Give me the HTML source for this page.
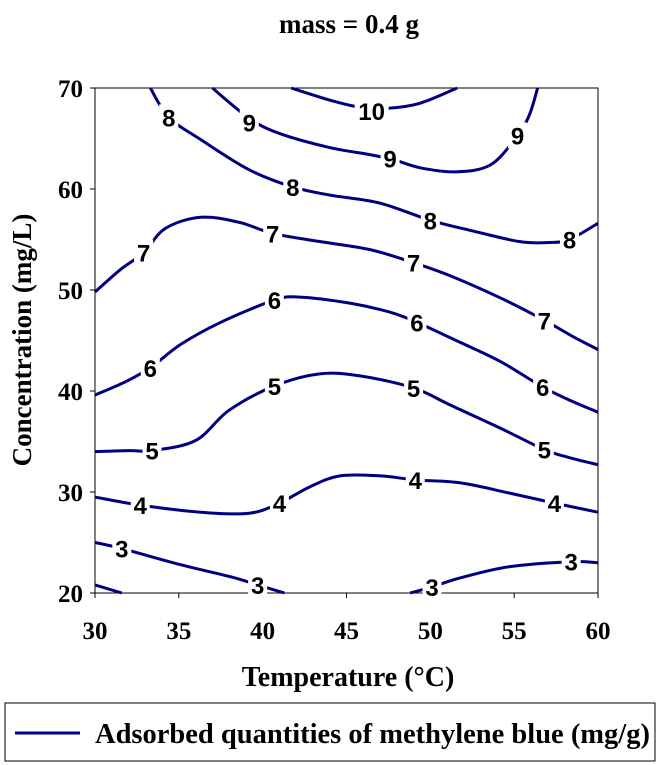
<!DOCTYPE html>
<html><head><meta charset="utf-8">
<style>
html,body{margin:0;padding:0;background:#fff;}
svg{display:block;}
.serif{font-family:"Liberation Serif",serif;font-weight:bold;}
.sans{font-family:"Liberation Sans",sans-serif;font-weight:bold;}
</style></head>
<body>
<svg id="chart" width="661" height="765" viewBox="0 0 661 765">
<text x="349" y="33" text-anchor="middle" class="serif" font-size="27">mass = 0.4 g</text>
<rect x="95" y="88" width="503" height="505" fill="none" stroke="#000" stroke-width="1"/>
<g id="ticks"></g>
<g id="lines"></g>
<g id="labels"></g>
<text transform="translate(31,340) rotate(-90)" text-anchor="middle" class="serif" font-size="27">Concentration (mg/L)</text>
<text x="348" y="686" text-anchor="middle" class="serif" font-size="28">Temperature (°C)</text>
<g>
<rect x="5" y="703" width="650" height="58" fill="#fff" stroke="#000" stroke-width="1"/>
<line x1="15" y1="733" x2="80" y2="733" stroke="#000080" stroke-width="3"/>
<text x="95" y="743" class="serif" font-size="28.5">Adsorbed quantities of methylene blue (mg/g)</text>
</g>
</svg>
<script>
const xTicks=[30,35,40,45,50,55,60];
const yTicks=[20,30,40,50,60,70];
const levels=["10","9","8","7","6","5","4","3","3","3"];
const lineX=[
[41.7,44.0,45.8,47.5,49.4,51.6],
[37.0,39.2,41.0,44.0,46.4,47.8,49.4,51.5,53.6,55.2,55.9,56.4],
[33.3,34.4,36.3,39.2,41.8,44.0,47.0,50.0,52.4,55.3,57.1,58.3,60],
[30,31.5,32.9,34.2,36.3,38.6,40.6,43.4,46.4,49.0,51.2,54.2,56.8,58.6,60],
[30,31.8,33.3,35.1,37.5,40.7,42.2,45.2,47.6,49.2,51.8,54.2,56.7,58.3,60],
[30,32.1,33.4,36.0,38.0,40.7,43.4,45.8,49.0,51.2,54.2,56.8,58.3,60],
[30,32.7,36.3,39.2,41.0,42.8,44.6,47.0,49.1,51.8,54.7,57.4,60],
[30,31.6,35.1,38.1,39.7,41.3],
[48.8,50.1,51.8,54.7,58.4,60],
[30,31.6]];
const lineY=[
[70,68.8,68.1,68.0,68.5,70],
[70,67.0,65.5,64.1,63.4,62.9,62.1,61.7,62.4,65.3,67.3,70],
[70,67.1,64.9,61.9,60.2,59.4,58.6,56.9,55.9,54.8,54.7,55.0,56.6],
[49.8,52.0,53.7,56.1,57.2,56.7,55.6,54.8,54.0,52.7,51.4,49.2,47.0,45.3,44.1],
[39.6,40.9,42.3,44.6,46.8,49.0,49.3,48.7,47.8,46.8,44.8,42.9,40.4,39.1,37.9],
[34.0,34.1,34.1,35.1,38.1,40.5,41.7,41.5,40.3,38.6,36.3,34.2,33.4,32.7],
[29.5,28.7,28.0,27.9,28.9,30.5,31.6,31.6,31.2,30.9,29.9,28.9,28.0],
[25.0,24.4,22.8,21.6,20.8,20.0],
[20,20.6,21.5,22.6,23.1,23.0],
[20.8,20]];
const labelText=["10","9","9","9","8","8","8","8","7","7","7","7","6","6","6","6","5","5","5","5","4","4","4","4","3","3","3","3"];
const labelX=[46.5,39.2,47.6,55.2,34.4,41.8,50.0,58.3,32.9,40.6,49.0,56.8,33.3,40.7,49.2,56.7,33.4,40.7,49.0,56.8,32.7,41.0,49.1,57.4,31.6,39.7,50.1,58.4];
const labelY=[67.7,66.6,63.0,65.3,67.1,60.2,56.9,55.0,53.7,55.6,52.7,47.0,42.3,49.0,46.8,40.4,34.1,40.5,40.3,34.2,28.7,28.9,31.2,28.9,24.4,20.8,20.6,23.1];

const X0=95,X1=598,Y0=593,Y1=88;
const sx=v=>X0+(v-30)/(60-30)*(X1-X0);
const sy=v=>Y0-(v-20)/(70-20)*(Y0-Y1);
const NS="http://www.w3.org/2000/svg";
const tg=document.getElementById('ticks');
xTicks.forEach(t=>{
 const l=document.createElementNS(NS,'line');
 l.setAttribute('x1',sx(t));l.setAttribute('x2',sx(t));l.setAttribute('y1',Y0);l.setAttribute('y2',Y0+5);l.setAttribute('stroke','#000');
 
 
 tg.appendChild(l);
 const tx=document.createElementNS(NS,'text');
 tx.setAttribute('x',sx(t));tx.setAttribute('y',Y0+46);tx.setAttribute('text-anchor','middle');tx.setAttribute('class','serif');tx.setAttribute('font-size','25');
 tx.textContent=t;
 
 
 tg.appendChild(tx);
});
yTicks.forEach(t=>{
 const l=document.createElementNS(NS,'line');
 l.setAttribute('x1',X0-5);l.setAttribute('x2',X0);l.setAttribute('y1',sy(t));l.setAttribute('y2',sy(t));l.setAttribute('stroke','#000');
 
 
 tg.appendChild(l);
 const tx=document.createElementNS(NS,'text');
 tx.setAttribute('x',X0-12);tx.setAttribute('y',sy(t)+9);tx.setAttribute('text-anchor','end');tx.setAttribute('class','serif');tx.setAttribute('font-size','25');
 tx.textContent=t;
 
 
 tg.appendChild(tx);
});
function smooth(pts){
 if(pts.length<3)return 'M'+pts.map(p=>p.join(',')).join('L');
 let d='M'+pts[0][0]+','+pts[0][1];
 for(let i=0;i<pts.length-1;i++){
  const p0=pts[i-1]||pts[i],p1=pts[i],p2=pts[i+1],p3=pts[i+2]||p2;
  const c1=[p1[0]+(p2[0]-p0[0])/6,p1[1]+(p2[1]-p0[1])/6];
  const c2=[p2[0]-(p3[0]-p1[0])/6,p2[1]-(p3[1]-p1[1])/6];
  d+='C'+c1.join(',')+' '+c2.join(',')+' '+p2.join(',');
 }
 return d;
}
const lg=document.getElementById('lines');
lineX.forEach((xs,i)=>{
 const pts=xs.map((x,j)=>[sx(x),sy(lineY[i][j])]);
 const p=document.createElementNS(NS,'path');
 p.setAttribute('d',smooth(pts));p.setAttribute('fill','none');p.setAttribute('stroke','#000080');p.setAttribute('stroke-width','3');
 
 
 lg.appendChild(p);
});
const lb=document.getElementById('labels');
function addLabel(txt,x,y){
 const w=txt.length*15+4;
 const r=document.createElementNS(NS,'rect');
 r.setAttribute('x',sx(x)-w/2);r.setAttribute('y',sy(y)-13);r.setAttribute('width',w);r.setAttribute('height',26);r.setAttribute('fill','#fff');
 
 
 lb.appendChild(r);
 const t=document.createElementNS(NS,'text');
 t.setAttribute('x',sx(x));t.setAttribute('y',sy(y)+9);t.setAttribute('text-anchor','middle');t.setAttribute('class','sans');t.setAttribute('font-size','24');
 t.textContent=txt;
 
 
 lb.appendChild(t);
}
labelText.forEach((t,i)=>addLabel(t,labelX[i],labelY[i]));
</script>
</body></html>
